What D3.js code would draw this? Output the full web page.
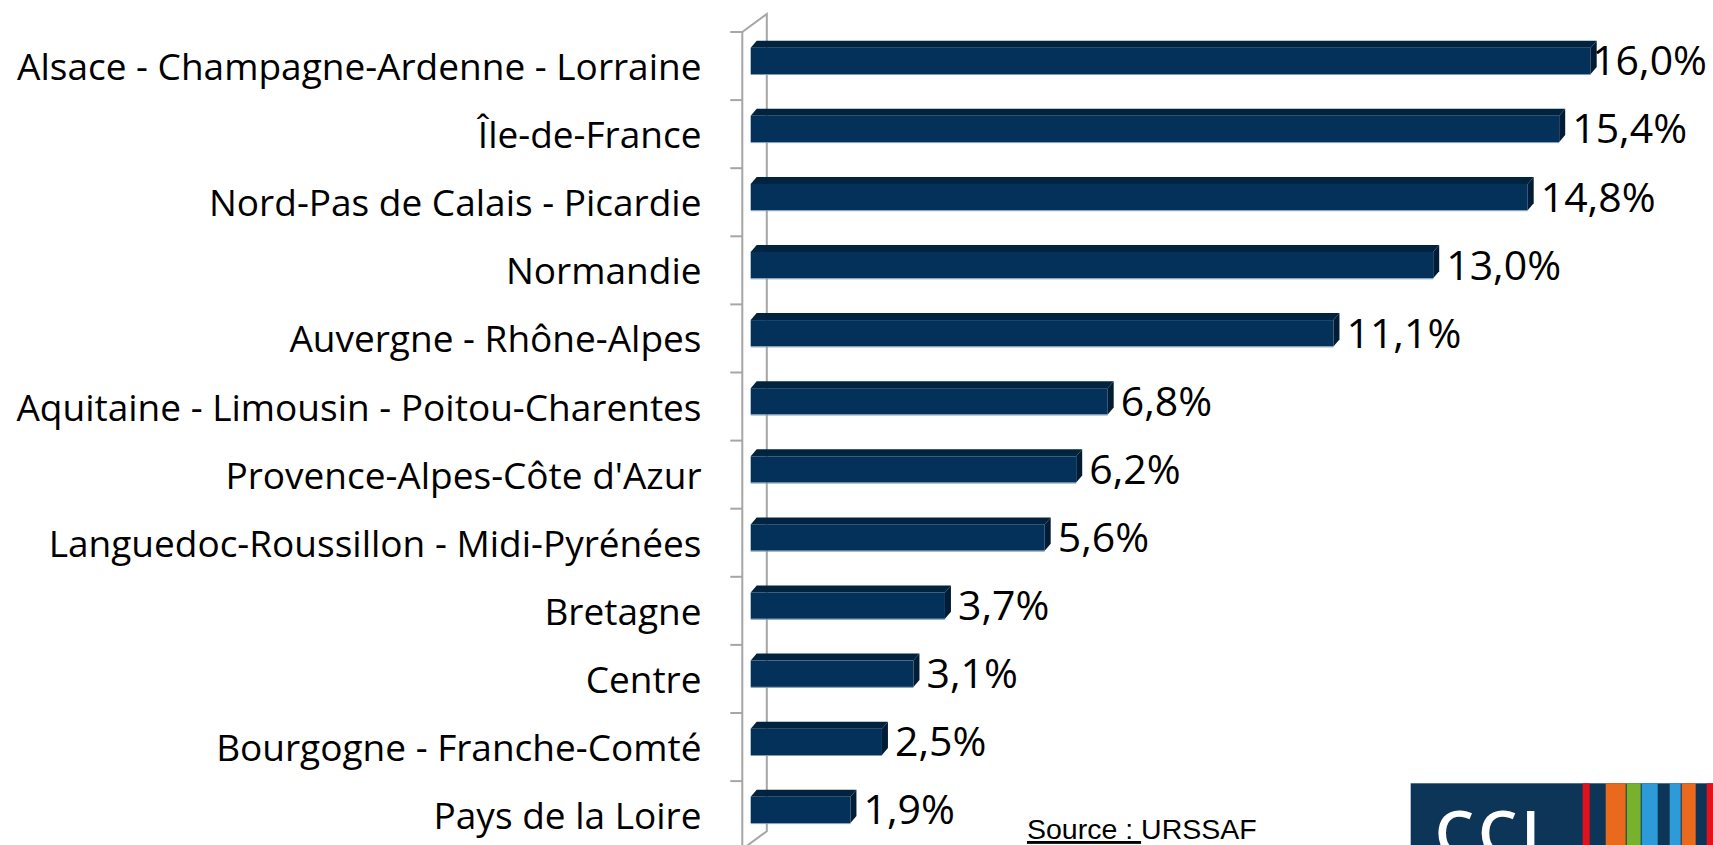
<!DOCTYPE html>
<html>
<head>
<meta charset="utf-8">
<script src="https://cdn.jsdelivr.net/npm/d3@7"></script>
<style>
  body { margin: 0; background: #fff; }
  svg { display: block; }
</style>
</head>
<body>
<div id="chart"></div>
<script>
// regions and their share (%)
const regions = [
  "Alsace - Champagne-Ardenne - Lorraine",
  "Île-de-France",
  "Nord-Pas de Calais - Picardie",
  "Normandie",
  "Auvergne - Rhône-Alpes",
  "Aquitaine - Limousin - Poitou-Charentes",
  "Provence-Alpes-Côte d'Azur",
  "Languedoc-Roussillon - Midi-Pyrénées",
  "Bretagne",
  "Centre",
  "Bourgogne - Franche-Comté",
  "Pays de la Loire"
];
const shares = [16.0, 15.4, 14.8, 13.0, 11.1, 6.8, 6.2, 5.6, 3.7, 3.1, 2.5, 1.9];
const sourceLabel = "Source : ";
const sourceName = "URSSAF";

const width = 1713;
const height = 845;

const data = regions.map((r, i) => ({ region: r, value: shares[i] }));

const svg = d3
  .select("#chart")
  .append("svg")
  .attr("width", width)
  .attr("height", height)
  .style("background", "#fff");

// 3D depth of the wall and of the bars
const wallDx = 24.5, wallDy = 18;
const barDx = 6, barDy = 7;

const y = d3
  .scaleBand()
  .domain(regions)
  .range([32, 849.2])
  .padding(0);

const x = d3
  .scaleLinear()
  .domain([0, d3.max(shares)])
  .range([750.7, 1590.7]);

const axisX = 742.3;
const wallColor = "#a6a6a6";

// wall (front line, back line and the two diagonals)
const wall = svg.append("g").attr("stroke", wallColor).attr("stroke-width", 2).attr("fill", "none");
const [y0, y1] = y.range();
wall.append("path")
  .attr("d", `M${axisX},${y0}L${axisX},${y1}`);
wall.append("path")
  .attr("d", `M${axisX},${y0}L${axisX + wallDx},${y0 - wallDy}L${axisX + wallDx},${y1 - wallDy}L${axisX},${y1}`);

// ticks at band boundaries
const bounds = regions.map((r) => y(r)).concat([y1]);
wall.selectAll("line.tick")
  .data(bounds)
  .join("line")
  .attr("class", "tick")
  .attr("x1", axisX - 12)
  .attr("x2", axisX)
  .attr("y1", (d) => d)
  .attr("y2", (d) => d);

// bars
const faceOffset = 15.7, faceH = 26.3;
const bars = svg.append("g")
  .selectAll("g")
  .data(data)
  .join("g");

bars.append("path") // top face
  .attr("fill", "#00233f")
  .attr("d", (d) => {
    const x0 = x(0), x1 = x(d.value), t = y(d.region) + faceOffset;
    return `M${x0},${t}L${x0 + barDx},${t - barDy}L${x1 + barDx},${t - barDy}L${x1},${t}Z`;
  });

bars.append("path") // right face
  .attr("fill", "#001d35")
  .attr("d", (d) => {
    const x1 = x(d.value), t = y(d.region) + faceOffset, b = t + faceH;
    return `M${x1},${t}L${x1 + barDx},${t - barDy}L${x1 + barDx},${b - barDy}L${x1},${b}Z`;
  });

bars.append("rect") // front face
  .attr("fill", "#03315a")
  .attr("x", x(0))
  .attr("y", (d) => y(d.region) + faceOffset)
  .attr("width", (d) => x(d.value) - x(0))
  .attr("height", faceH);

bars.append("line") // light edge under bar
  .attr("stroke", "#7f9bb8")
  .attr("stroke-width", 1)
  .attr("x1", x(0))
  .attr("x2", (d) => x(d.value))
  .attr("y1", (d) => y(d.region) + faceOffset + faceH + 0.5)
  .attr("y2", (d) => y(d.region) + faceOffset + faceH + 0.5);

// category labels
svg.append("g")
  .selectAll("text")
  .data(data)
  .join("text")
  .attr("x", 701.5)
  .attr("y", (d) => y(d.region) + y.bandwidth() / 2 + 14)
  .attr("text-anchor", "end")
  .attr("font-family", "'Open Sans', sans-serif")
  .attr("font-size", 37)
  .attr("fill", "#000")
  .text((d) => d.region);

// value labels
const fmt = (v) => d3.format(".1f")(v).replace(".", ",") + "%";
svg.append("g")
  .selectAll("text")
  .data(data)
  .join("text")
  .attr("y", (d) => y(d.region) + faceOffset + faceH / 2 + 14.5)
  .attr("font-family", "'Open Sans', sans-serif")
  .attr("font-size", 41)
  .attr("fill", "#000")
  .text((d) => fmt(d.value))
  .attr("x", function (d) {
    const len = this.getComputedTextLength();
    return Math.min(x(d.value) + 13, width - 6 - len);
  });

// source
const src = svg.append("text")
  .attr("x", 1027)
  .attr("y", 839)
  .attr("font-family", "'Liberation Sans', Arial, sans-serif")
  .attr("font-size", 28.5)
  .attr("fill", "#000");
src.append("tspan").attr("text-decoration", "underline").text(sourceLabel);
src.append("tspan").text(sourceName);

// CCI logo (partly cut off at the bottom right)
const logo = svg.append("g").attr("transform", "translate(1410.7,783.3)");
logo.append("rect").attr("width", width - 1410.7).attr("height", 70).attr("fill", "#0d3557");
logo.append("text")
  .attr("x", 24)
  .attr("y", 72)
  .attr("font-family", "'Open Sans', sans-serif")
  .attr("font-weight", 600)
  .attr("font-size", 62)
  .attr("letter-spacing", 4)
  .attr("fill", "#fff")
  .text("CCI");
const stripes = [
  { x: 172, w: 7, c: "#e3111b" },
  { x: 195, w: 20, c: "#ea6a1d" },
  { x: 216, w: 14, c: "#78b22d" },
  { x: 231, w: 16, c: "#2d9bd8" },
  { x: 259, w: 11, c: "#2d9bd8" },
  { x: 271, w: 14, c: "#ea6a1d" },
  { x: 296, w: 8, c: "#e3111b" }
];
logo.selectAll("rect.stripe")
  .data(stripes)
  .join("rect")
  .attr("class", "stripe")
  .attr("x", (d) => d.x)
  .attr("width", (d) => d.w)
  .attr("height", 70)
  .attr("fill", (d) => d.c);
</script>
</body>
</html>
